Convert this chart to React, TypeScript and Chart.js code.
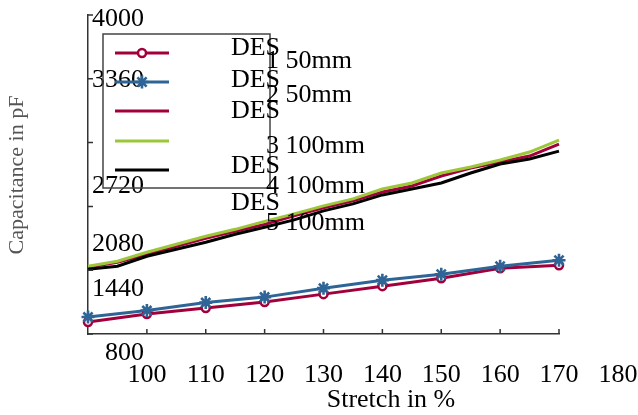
import { useEffect, useRef } from "react";
import { Chart, registerables } from "chart.js";

Chart.register(...registerables);

// ---- data ----
const stretch50 = [90, 100, 110, 120, 130, 140, 150, 160, 170];
const des1_50mm = [920, 1000, 1060, 1120, 1200, 1280, 1360, 1460, 1490];
const des2_50mm = [970, 1035, 1115, 1170, 1260, 1340, 1400, 1480, 1540];

const stretch100 = [90, 95, 100, 105, 110, 115, 120, 125, 130, 135, 140, 145, 150, 155, 160, 165, 170];
const des3_100mm = [1470, 1520, 1600, 1680, 1760, 1830, 1900, 1985, 2065, 2135, 2225, 2285, 2385, 2465, 2525, 2585, 2705];
const des4_100mm = [1480, 1530, 1620, 1700, 1780, 1850, 1930, 2005, 2085, 2155, 2255, 2315, 2415, 2475, 2545, 2625, 2745];
const des5_100mm = [1450, 1480, 1580, 1650, 1720, 1800, 1870, 1945, 2035, 2105, 2195, 2255, 2315, 2415, 2505, 2555, 2635];

const xTickLabels = [100, 110, 120, 130, 140, 150, 160, 170, 180];
const xTickMarks = [100, 110, 120, 130, 140, 150, 160, 170];
const yTickLabels = [4000, 3360, 2720, 2080, 1440, 800];

const seriesFirstLine = ["DES", "DES", "DES", "DES", "DES"];
const seriesSecondLine = ["1 50mm", "2 50mm", "3 100mm", "4 100mm", "5 100mm"];

const xTitle = "Stretch in %";
const yTitle = "Capacitance in pF";

// ---- styles ----
const CRIMSON = "#a3003b";
const BLUE = "#2e6596";
const GREEN = "#9cc73a";
const BLACK = "#000000";
const AXIS = "#333333";
const FONT = '"Liberation Serif", "DejaVu Serif", serif';
const LINE_W = 3;

const Y_LABEL_SHIFT = [11, 8, 50, 45, 26, 26];

function drawMarker(ctx: CanvasRenderingContext2D, style: string, x: number, y: number, color: string) {
  ctx.save();
  ctx.strokeStyle = color;
  if (style === "circle") {
    ctx.lineWidth = 2.5;
    ctx.fillStyle = "#fff";
    ctx.beginPath();
    ctx.arc(x, y, 4, 0, Math.PI * 2);
    ctx.fill();
    ctx.stroke();
  } else if (style === "star") {
    ctx.lineWidth = 2.6;
    const r = 6.5;
    ctx.beginPath();
    for (let i = 0; i < 4; i++) {
      const a = (i * Math.PI) / 4;
      ctx.moveTo(x - Math.cos(a) * r, y - Math.sin(a) * r);
      ctx.lineTo(x + Math.cos(a) * r, y + Math.sin(a) * r);
    }
    ctx.stroke();
  }
  ctx.restore();
}

const decorPlugin = {
  id: "decor",
  afterDraw(chart: any) {
    const { ctx, chartArea } = chart;
    const xs = chart.scales.x;
    const ys = chart.scales.y;
    const { left, top, bottom } = chartArea;
    ctx.save();

    // inward tick marks
    ctx.strokeStyle = AXIS;
    ctx.lineWidth = 1.5;
    ctx.beginPath();
    xTickMarks.forEach((v) => {
      const px = xs.getPixelForValue(v);
      ctx.moveTo(px, bottom);
      ctx.lineTo(px, bottom - 5);
    });
    yTickLabels.forEach((v) => {
      const py = ys.getPixelForValue(v);
      ctx.moveTo(left, py);
      ctx.lineTo(left + 5, py);
    });
    ctx.stroke();

    // tick labels
    ctx.fillStyle = "#000";
    ctx.font = `26px ${FONT}`;
    ctx.textBaseline = "alphabetic";
    ctx.textAlign = "center";
    xTickLabels.forEach((v) => {
      ctx.fillText(String(v), xs.getPixelForValue(v), bottom + 48);
    });
    ctx.textAlign = "right";
    yTickLabels.forEach((v, i) => {
      ctx.fillText(String(v), left + 56, ys.getPixelForValue(v) + Y_LABEL_SHIFT[i]);
    });

    // axis titles
    ctx.textAlign = "center";
    ctx.font = `26px ${FONT}`;
    ctx.fillStyle = "#000";
    ctx.fillText(xTitle, left + 303, bottom + 73);
    ctx.save();
    ctx.translate(left - 71, top + 160);
    ctx.rotate(-Math.PI / 2);
    ctx.font = `22px ${FONT}`;
    ctx.fillStyle = "#555555";
    ctx.textBaseline = "middle";
    ctx.fillText(yTitle, 0, 0);
    ctx.restore();

    // legend
    const bx = left + 15;
    const by = top + 19;
    ctx.strokeStyle = "#444";
    ctx.lineWidth = 1.5;
    ctx.strokeRect(bx, by, 167, 154);
    const lineYs = [38, 67, 96, 126, 155];
    const desYs = [40, 72, 103, 158, 195];
    const secYs = [53, 87, 138, 178, 215];
    chart.data.datasets.forEach((ds: any, i: number) => {
      const ly = top + lineYs[i];
      ctx.strokeStyle = ds.borderColor;
      ctx.lineWidth = ds.borderWidth;
      ctx.beginPath();
      ctx.moveTo(left + 27, ly);
      ctx.lineTo(left + 81, ly);
      ctx.stroke();
      if (ds.markerStyle) drawMarker(ctx, ds.markerStyle, left + 54, ly, ds.borderColor);
    });
    ctx.fillStyle = "#000";
    ctx.font = `26px ${FONT}`;
    seriesFirstLine.forEach((t, i) => {
      ctx.textAlign = "right";
      ctx.fillText(t, left + 192, top + desYs[i]);
    });
    seriesSecondLine.forEach((t, i) => {
      ctx.textAlign = "left";
      ctx.fillText(t, left + 178, top + secYs[i]);
    });

    ctx.restore();
  },
};

const markerPlugin = {
  id: "markers",
  afterDatasetsDraw(chart: any) {
    const ctx = chart.ctx;
    chart.data.datasets.forEach((ds: any, i: number) => {
      if (!ds.markerStyle) return;
      const meta = chart.getDatasetMeta(i);
      meta.data.forEach((pt: any) => drawMarker(ctx, ds.markerStyle, pt.x, pt.y, ds.borderColor));
    });
  },
};

export default function App() {
  const ref = useRef<HTMLCanvasElement | null>(null);

  useEffect(() => {
    if (!ref.current) return;
    const mk = (xs: number[], ys: number[]) => xs.map((x, i) => ({ x, y: ys[i] }));
    const chart = new Chart(ref.current, {
      type: "line",
      data: {
        datasets: [
          { label: "DES 1 50mm", data: mk(stretch50, des1_50mm), borderColor: CRIMSON, borderWidth: LINE_W, markerStyle: "circle", clip: false, order: 5 },
          { label: "DES 2 50mm", data: mk(stretch50, des2_50mm), borderColor: BLUE, borderWidth: LINE_W, markerStyle: "star", clip: false, order: 4 },
          { label: "DES 3 100mm", data: mk(stretch100, des3_100mm), borderColor: CRIMSON, borderWidth: LINE_W, clip: false, order: 3 },
          { label: "DES 4 100mm", data: mk(stretch100, des4_100mm), borderColor: GREEN, borderWidth: LINE_W, clip: false, order: 2 },
          { label: "DES 5 100mm", data: mk(stretch100, des5_100mm), borderColor: BLACK, borderWidth: LINE_W, clip: false, order: 1 },
        ],
      },
      options: {
        responsive: false,
        animation: false,
        devicePixelRatio: 1,
        layout: { padding: { left: 88, right: 79, top: 15, bottom: 81 } },
        elements: { line: { tension: 0 }, point: { radius: 0, hoverRadius: 0 } },
        plugins: { legend: { display: false }, tooltip: { enabled: false } },
        scales: {
          x: {
            type: "linear",
            min: 90,
            max: 170,
            ticks: { display: false },
            grid: { display: false },
            border: { display: true, color: AXIS, width: 1.5 },
            afterFit: (s: any) => { s.height = 0; },
          },
          y: {
            type: "linear",
            min: 800,
            max: 4000,
            ticks: { display: false },
            grid: { display: false },
            border: { display: true, color: AXIS, width: 1.5 },
            afterFit: (s: any) => { s.width = 0; },
          },
        },
      },
      plugins: [markerPlugin, decorPlugin],
    } as any);
    return () => chart.destroy();
  }, []);

  return (
    <div style={{ position: "fixed", left: 0, top: 0, width: 638, height: 415, background: "#fff" }}>
      <canvas ref={ref} width={638} height={415} style={{ display: "block", width: 638, height: 415 }} />
    </div>
  );
}
